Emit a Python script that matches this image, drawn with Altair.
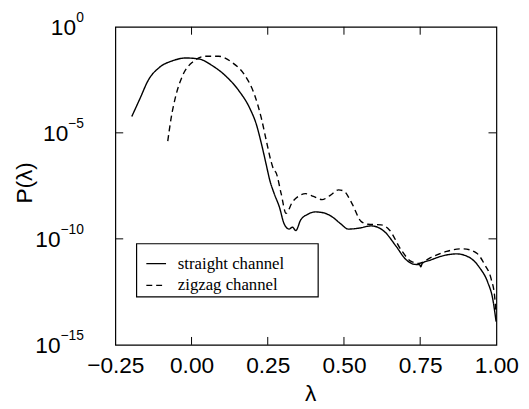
import altair as alt
import pandas as pd

# ---- data (x = lambda, value = log10 P) ----
series_names = ["straight channel", "zigzag channel"]

straight_x = [-0.196, -0.169, -0.142, -0.105, -0.062, -0.019, 0.025, 0.068, 0.110, 0.154,
              0.191, 0.213, 0.229, 0.245, 0.256, 0.272, 0.288, 0.304, 0.320, 0.331,
              0.342, 0.358, 0.380, 0.407, 0.435, 0.461, 0.490, 0.514, 0.547, 0.590,
              0.633, 0.671, 0.703, 0.730, 0.748, 0.752, 0.757, 0.784, 0.827, 0.870,
              0.913, 0.945, 0.972, 0.988, 0.999]
straight_log = [-4.23, -3.38, -2.52, -1.91, -1.60, -1.47, -1.52, -1.83, -2.29, -2.99,
                -3.84, -4.62, -5.50, -6.50, -7.20, -7.90, -8.49, -9.30, -9.54, -9.45,
                -9.61, -9.11, -8.85, -8.73, -8.78, -8.96, -9.30, -9.54, -9.50, -9.39,
                -9.66, -10.35, -10.97, -11.20, -11.22, -11.32, -11.15, -11.00, -10.79, -10.71,
                -10.89, -11.36, -12.06, -12.83, -13.90]

zigzag_x = [-0.078, -0.067, -0.051, -0.029, 0.003, 0.046, 0.089, 0.132, 0.175, 0.207,
            0.229, 0.245, 0.260, 0.270, 0.277, 0.294, 0.310, 0.331, 0.350, 0.374,
            0.400, 0.428, 0.455, 0.482, 0.500, 0.525, 0.557, 0.579, 0.622, 0.649,
            0.687, 0.719, 0.746, 0.784, 0.837, 0.891, 0.934, 0.961, 0.983, 0.994, 0.999]
zigzag_log = [-5.39, -4.31, -3.22, -2.29, -1.67, -1.39, -1.39, -1.67, -2.29, -3.22,
              -4.31, -5.35, -6.30, -6.75, -6.87, -7.87, -8.80, -8.26, -8.00, -7.87,
              -8.00, -8.15, -7.95, -7.69, -7.75, -8.30, -9.19, -9.31, -9.34, -9.58,
              -10.51, -11.05, -11.16, -10.89, -10.59, -10.47, -10.66, -11.20, -11.90, -12.68, -13.50]

x_ticks = [-0.25, 0.0, 0.25, 0.5, 0.75, 1.0]
inner_x_ticks = [0.0, 0.25, 0.5, 0.75]
y_exps = [0, -5, -10, -15]
y_base = "10"
y_sup = ["0", "\u22125", "\u221210", "\u221215"]
inner_y_exps = [-5, -10]

rows = []
for x, e in zip(straight_x, straight_log):
    rows.append({"lam": x, "P": 10.0 ** e, "series": series_names[0]})
for x, e in zip(zigzag_x, zigzag_log):
    rows.append({"lam": x, "P": 10.0 ** e, "series": series_names[1]})
df = pd.DataFrame(rows)

W, H = 387, 323
TL = 8
FONT = "Liberation Sans"

xscale = alt.Scale(domain=[-0.25, 1.0], nice=False, zero=False)
yscale = alt.Scale(type="log", domain=[1e-15, 1], nice=False)

x_axis = alt.Axis(values=x_ticks, format=".2f", ticks=False, domain=False, grid=False,
                  labelFont=FONT, labelFontSize=23, labelColor="black", labelPadding=10,
                  labelFlush=False, labelOverlap=False,
                  title="\u03bb", titleFont=FONT, titleFontSize=23, titleFontWeight="normal",
                  titleColor="black", titleX=198, titleY=57, titleBaseline="alphabetic",
                  titleAlign="center")
y_axis = alt.Axis(values=[10.0 ** e for e in y_exps], labels=False, ticks=False,
                  domain=False, grid=False,
                  title="P(\u03bb)", titleFont=FONT, titleFontSize=23, titleFontWeight="normal",
                  titleColor="black", titleAngle=270, titleX=-85, titleY=158,
                  titleBaseline="alphabetic", titleAlign="center")

x_enc = alt.X("lam:Q", scale=xscale, axis=x_axis)
y_enc = alt.Y("P:Q", scale=yscale, axis=y_axis)

legend = alt.Legend(title=None, orient="none", legendX=23.5, legendY=222.5,
                    padding=7,
                    labelFont="Liberation Serif", labelFontSize=17, labelColor="black",
                    labelOffset=11, labelLimit=400, symbolType="stroke", symbolSize=400,
                    symbolStrokeWidth=1.3, symbolStrokeColor="black", rowPadding=3)

# legend frame (decoration, in pixels of the plot area)
legend_box = alt.Chart(pd.DataFrame({"k": [0]})).mark_rect(
    fill="white", stroke="black", strokeWidth=1.2
).encode(x=alt.value(21.6), x2=alt.value(206), y=alt.value(220.3), y2=alt.value(274.3))

lines = alt.Chart(df).mark_line(color="black", strokeWidth=1.4, interpolate="monotone").encode(
    x=x_enc,
    y=y_enc,
    strokeDash=alt.StrokeDash("series:N",
                              scale=alt.Scale(domain=series_names, range=[[1, 0], [6, 4]]),
                              legend=legend),
)

xt = pd.DataFrame({"lam": inner_x_ticks})
yt = pd.DataFrame({"P": [10.0 ** e for e in inner_y_exps]})

bottom_ticks = alt.Chart(xt).mark_rule(color="black", strokeWidth=1).encode(
    x=x_enc, y=alt.value(H), y2=alt.value(H - TL))
top_ticks = alt.Chart(xt).mark_rule(color="black", strokeWidth=1).encode(
    x=x_enc, y=alt.value(0), y2=alt.value(TL))
left_ticks = alt.Chart(yt).mark_rule(color="black", strokeWidth=1).encode(
    y=y_enc, x=alt.value(0), x2=alt.value(TL))
right_ticks = alt.Chart(yt).mark_rule(color="black", strokeWidth=1).encode(
    y=y_enc, x=alt.value(W), x2=alt.value(W - TL))

# y tick labels: "10" plus a raised exponent
ylab = pd.DataFrame({"P": [10.0 ** e for e in y_exps], "sup": y_sup})
LABEL_RIGHT = -32
ten_text = alt.Chart(ylab).mark_text(
    text=y_base, font=FONT, fontSize=23, align="right", baseline="alphabetic",
    color="black", dy=8.5, dx=alt.expr("-7.9 * length(datum.sup)"),
).encode(y=y_enc, x=alt.value(LABEL_RIGHT))
sup_text = alt.Chart(ylab).mark_text(
    font=FONT, fontSize=14, align="right", baseline="alphabetic",
    color="black", dy=-4.5,
).encode(y=y_enc, x=alt.value(LABEL_RIGHT), text="sup:N")

chart = alt.layer(lines, legend_box, bottom_ticks, top_ticks, left_ticks, right_ticks,
                  ten_text, sup_text).properties(
    width=W, height=H,
    padding={"left": 109, "top": 16, "right": 25, "bottom": 60},
    autosize=alt.AutoSizeParams(type="none"),
    background="white",
).configure_view(stroke="black", strokeWidth=1.2)

chart.save("out.html", embed_options={"renderer": "svg", "actions": False})
